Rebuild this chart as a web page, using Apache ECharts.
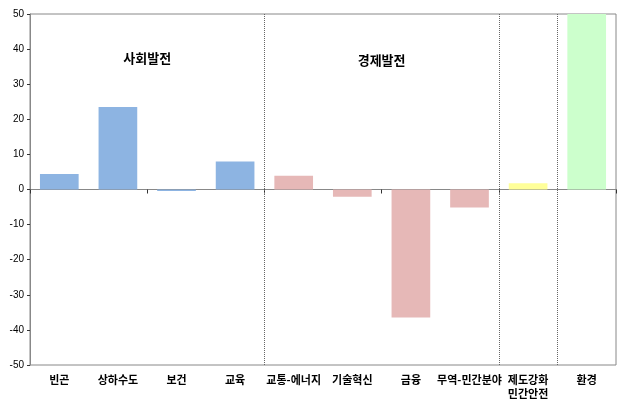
<!DOCTYPE html>
<html>
<head>
<meta charset="utf-8">
<script src="https://cdn.jsdelivr.net/npm/echarts@6/dist/echarts.min.js"></script>
<style>html,body{margin:0;padding:0;background:#fff;}#c{width:629px;height:405px;}</style>
</head>
<body>
<div id="c"></div>
<script>
var categories = ['빈곤', '상하수도', '보건', '교육', '교통-에너지', '기술혁신', '금융', '무역-민간분야', '제도강화\n민간안전', '환경'];
var values = [4.4, 23.5, -0.4, 8.0, 3.9, -2.1, -36.5, -5.1, 1.8, 50];
var barColors = ['#8DB4E2', '#8DB4E2', '#8DB4E2', '#8DB4E2', '#E6B8B7', '#E6B8B7', '#E6B8B7', '#E6B8B7', '#FFFF99', '#CCFFCC'];
var yTicks = [-50, -40, -30, -20, -10, 0, 10, 20, 30, 40, 50];
var dividers = [4, 8, 9];
var groupLabels = [{name: '사회발전', x: 2, y: 37.5}, {name: '경제발전', x: 6, y: 37}];

var chart = echarts.init(document.getElementById('c'), null, {renderer: 'canvas'});
var font = '"Noto Sans CJK KR", sans-serif';
chart.setOption({
  animation: false,
  grid: {left: 30, right: 13, top: 14, bottom: 40, show: true, borderColor: '#888', borderWidth: 1, backgroundColor: 'transparent'},
  xAxis: [
    {type: 'category', data: categories, position: 'bottom',
     axisLine: {onZero: true, lineStyle: {color: '#888'}},
     axisTick: {show: true, length: 4, lineStyle: {color: '#333'}},
     axisLabel: {show: false}},
    {type: 'category', data: categories, position: 'bottom',
     axisLine: {show: false, onZero: false}, axisTick: {show: false},
     axisLabel: {color: '#000', fontFamily: font, fontSize: 11, fontWeight: 'bold', margin: 8, lineHeight: 14, interval: 0}},
    {type: 'value', min: 0, max: 10, show: false}
  ],
  yAxis: {type: 'value', min: -50, max: 50, interval: 10,
    axisLine: {show: true, lineStyle: {color: '#888'}},
    axisTick: {show: true, length: 3, lineStyle: {color: '#333'}},
    splitLine: {show: false},
    axisLabel: {color: '#000', fontFamily: 'Liberation Sans, Arial, sans-serif', fontSize: 10, margin: 6,
      formatter: function (v) { return yTicks.indexOf(v) >= 0 ? String(v) : ''; }}},
  series: [
    {type: 'bar', xAxisIndex: 0, data: values.map(function (v, i) { return {value: v, itemStyle: {color: barColors[i]}}; }),
     barCategoryGap: '34%'},
    {type: 'line', xAxisIndex: 2, data: [], symbol: 'none',
     markLine: {silent: true, symbol: 'none', label: {show: false},
       lineStyle: {color: '#666', type: [1, 1], width: 1},
       data: dividers.map(function (d) { return {xAxis: d}; })},
     markPoint: {silent: true, symbol: 'circle', symbolSize: 0,
       label: {show: true, position: 'inside', color: '#000', fontFamily: font, fontSize: 13, fontWeight: 'bold',
         formatter: function (p) { return p.name; }},
       data: groupLabels.map(function (g) { return {name: g.name, coord: [g.x, g.y]}; })}}
  ]
});
</script>
</body>
</html>
